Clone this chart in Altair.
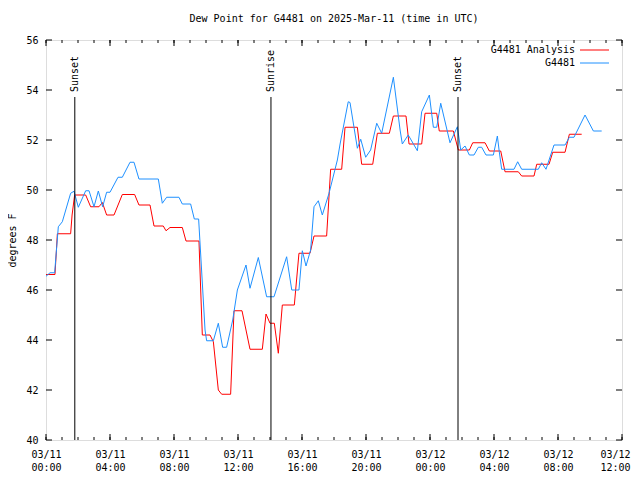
import altair as alt
import pandas as pd

# ---- data (hours since 2025-03-11 00:00 UTC, deg F) ----
analysis_hours = [0.00, 0.56, 0.63, 0.71, 1.54, 1.63, 1.79, 2.48, 2.79, 3.31, 3.52, 3.79,
                  4.25, 4.77, 5.54, 5.81, 6.50, 6.75, 7.33, 7.50, 7.75, 8.52, 8.75, 9.56,
                  9.77, 10.25, 10.46, 10.77, 10.98, 11.54, 11.75, 12.25, 12.75, 13.52, 13.75,
                  14.00, 14.27, 14.52, 14.77, 15.52, 15.81, 16.50, 16.75, 17.54, 17.79, 18.48,
                  18.69, 19.46, 19.73, 20.42, 20.71, 21.46, 21.71, 22.50, 22.69, 23.48, 23.69,
                  24.42, 24.58, 25.46, 25.77, 26.46, 26.67, 27.44, 27.71, 28.42, 28.69, 29.52,
                  29.73, 30.50, 30.67, 31.44, 31.67, 32.44, 32.71, 33.48]
analysis_values = [46.62, 46.62, 47.36, 48.25, 48.25, 49.0, 49.8, 49.8, 49.33, 49.33, 49.5, 49.0,
                   49.0, 49.82, 49.82, 49.4, 49.4, 48.56, 48.56, 48.37, 48.5, 48.5, 47.96, 47.96,
                   44.2, 44.2, 43.93, 42.0, 41.83, 41.83, 45.17, 45.17, 43.63, 43.63, 45.04,
                   44.67, 44.67, 43.47, 45.4, 45.4, 47.47, 47.47, 48.16, 48.16, 50.83, 50.83,
                   52.51, 52.51, 51.03, 51.03, 52.27, 52.27, 52.96, 52.96, 51.84, 51.84, 53.07,
                   53.07, 52.36, 52.36, 51.6, 51.6, 51.89, 51.89, 51.56, 51.56, 50.73, 50.73,
                   50.56, 50.56, 51.03, 51.03, 51.51, 51.51, 52.23, 52.23]

obs_hours = [0.00, 0.25, 0.54, 0.67, 0.77, 1.02, 1.54, 1.75, 2.02, 2.48, 2.69, 3.00, 3.27,
             3.54, 3.79, 4.00, 4.50, 4.77, 5.25, 5.50, 5.81, 7.02, 7.27, 7.54, 8.31, 8.52,
             9.04, 9.27, 9.54, 9.94, 10.04, 10.46, 10.77, 11.04, 11.29, 11.67, 11.96, 12.50,
             12.75, 13.27, 13.79, 14.25, 15.04, 15.36, 15.81, 16.02, 16.25, 16.54, 16.75,
             17.02, 17.27, 17.69, 18.21, 18.38, 18.89, 19.00, 19.46, 19.67, 19.98, 20.29,
             20.67, 20.98, 21.71, 22.13, 22.27, 22.64, 23.21, 23.48, 23.96, 24.21, 24.42,
             24.67, 25.25, 25.71, 25.92, 26.19, 26.46, 26.75, 27.02, 27.23, 27.50, 27.96,
             28.21, 28.33, 28.48, 29.25, 29.48, 29.73, 30.77, 30.98, 31.25, 31.75, 32.44,
             32.71, 33.00, 33.69, 34.21, 34.73]
obs_values = [46.55, 46.69, 46.69, 47.73, 48.53, 48.73, 49.87, 49.95, 49.31, 49.97, 49.97, 49.33,
              49.96, 49.33, 49.91, 49.91, 50.51, 50.51, 51.11, 51.11, 50.44, 50.44, 49.47, 49.71,
              49.71, 49.44, 49.44, 48.84, 48.84, 44.4, 43.97, 43.97, 44.67, 43.71, 43.71, 44.8,
              46.0, 47.0, 46.07, 47.3, 45.73, 45.73, 47.33, 46.0, 46.0, 47.57, 46.96, 47.6,
              49.33, 49.57, 49.0, 49.87, 51.2, 51.84, 53.53, 53.5, 51.67, 52.03, 51.31, 51.6,
              52.67, 52.27, 54.51, 52.4, 51.84, 52.2, 51.57, 53.13, 53.8, 52.51, 52.51, 53.47,
              51.89, 52.53, 51.6, 51.76, 51.4, 51.4, 51.71, 51.71, 51.4, 51.4, 52.16, 51.53,
              50.83, 50.83, 51.13, 50.83, 50.83, 51.09, 50.83, 51.8, 51.8, 52.11, 52.11, 53.0,
              52.36, 52.36]

event_hours = [1.8, 14.06, 25.75]
event_labels = ["Sunset", "Sunrise", "Sunset"]

series_names = ["G4481 Analysis", "G4481"]
series_colors = ["#ff0000", "#1e90ff"]

x_major = list(range(0, 37, 4))
x_minor = list(range(0, 37))
y_major = list(range(40, 57, 2))

FONT = "DejaVu Sans Mono"
W, H = 576, 400

xscale = alt.Scale(domain=[0, 36], nice=False, zero=False)
yscale = alt.Scale(domain=[40, 56], nice=False, zero=False)

x_axis = alt.Axis(
    values=x_major,
    labelExpr="[datum.value < 24 ? '03/11' : '03/12', "
              "(datum.value % 24 < 10 ? '0' : '') + (datum.value % 24) + ':00']",
    ticks=False, domain=False, grid=False,
    labelFont=FONT, labelFontSize=10, labelColor="black",
    labelPadding=9, labelLineHeight=13, labelFlush=False, labelOverlap=False,
    labelOffset={"condition": {"test": "datum.value >= 36", "value": -7}, "value": 0},
)
y_axis = alt.Axis(
    values=y_major, ticks=False, domain=False, grid=False,
    labelFont=FONT, labelFontSize=10, labelColor="black", labelPadding=8,
    title="degrees F", titleFont=FONT, titleFontSize=10, titleFontWeight="normal",
    titleColor="black", titlePadding=8,
)

X = alt.X("h:Q", scale=xscale, axis=x_axis, title=None)
Y = alt.Y("v:Q", scale=yscale, axis=y_axis, title="degrees F")

red_df = pd.DataFrame({"h": analysis_hours, "v": analysis_values})
blue_df = pd.DataFrame({"h": obs_hours, "v": obs_values})
ev_df = pd.DataFrame({"h": event_hours, "label": event_labels})
xmaj_df = pd.DataFrame({"h": x_major})
xmin_df = pd.DataFrame({"h": x_minor})
ymaj_df = pd.DataFrame({"v": y_major})
one = pd.DataFrame({"a": [0]})

red = alt.Chart(red_df).mark_line(color=series_colors[0], strokeWidth=1).encode(x=X, y=Y)
blue = alt.Chart(blue_df).mark_line(color=series_colors[1], strokeWidth=1).encode(x=X, y=Y)

ev_rule = alt.Chart(ev_df).mark_rule(color="black", strokeWidth=1).encode(
    x=X, y=alt.value(57), y2=alt.value(H))
ev_text = alt.Chart(ev_df).mark_text(
    angle=270, align="left", baseline="middle", font=FONT, fontSize=10, color="black"
).encode(x=X, y=alt.value(52), text="label:N")

# inward ticks (gnuplot style, mirrored)
tick_layers = [
    alt.Chart(xmaj_df).mark_rule(color="black").encode(x=X, y=alt.value(H), y2=alt.value(H - 6)),
    alt.Chart(xmaj_df).mark_rule(color="black").encode(x=X, y=alt.value(0), y2=alt.value(6)),
    alt.Chart(xmin_df).mark_rule(color="black").encode(x=X, y=alt.value(H), y2=alt.value(H - 3)),
    alt.Chart(xmin_df).mark_rule(color="black").encode(x=X, y=alt.value(0), y2=alt.value(3)),
    alt.Chart(ymaj_df).mark_rule(color="black").encode(y=Y, x=alt.value(0), x2=alt.value(6)),
    alt.Chart(ymaj_df).mark_rule(color="black").encode(y=Y, x=alt.value(W), x2=alt.value(W - 6)),
]

legend_layers = []
for i, (name, col) in enumerate(zip(series_names, series_colors)):
    yy = 10 + 13 * i
    legend_layers.append(alt.Chart(one).mark_text(
        align="right", baseline="middle", font=FONT, fontSize=10, color="black"
    ).encode(x=alt.value(529), y=alt.value(yy), text=alt.value(name)))
    legend_layers.append(alt.Chart(one).mark_rule(color=col, strokeWidth=1).encode(
        x=alt.value(534), x2=alt.value(563), y=alt.value(yy)))

chart = alt.layer(
    red, blue, ev_rule, ev_text, *tick_layers, *legend_layers
).properties(
    width=W, height=H,
    title=alt.TitleParams("Dew Point for G4481 on 2025-Mar-11 (time in UTC)",
                          font=FONT, fontSize=10, fontWeight="normal", color="black",
                          anchor="middle", offset=11),
    padding={"left": 38, "top": 32, "right": 10, "bottom": 34},
    autosize=alt.AutoSizeParams(type="none"),
).configure_view(stroke="black", strokeWidth=1).configure(background="white")

chart.save("out.html", embed_options={"renderer": "svg", "actions": False})
